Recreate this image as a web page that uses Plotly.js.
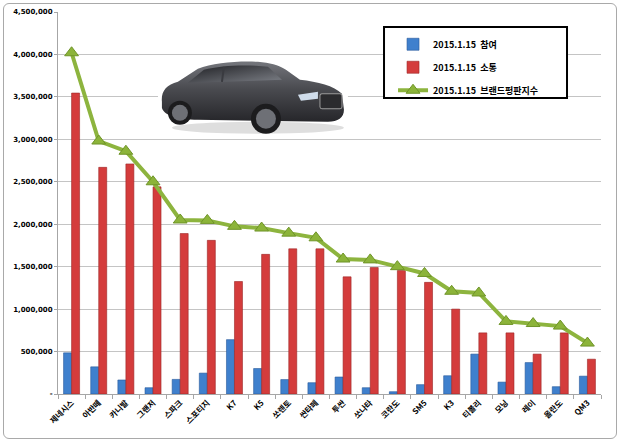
<!DOCTYPE html>
<html>
<head>
<meta charset="utf-8">
<script src="https://cdn.plot.ly/plotly-3.0.1.min.js"></script>
<style>
  html, body { margin: 0; padding: 0; background: #fff; }
  #wrap { position: relative; width: 620px; height: 442px; }
  #chart { width: 620px; height: 442px; }
  #frame {
    position: absolute; left: 3px; top: 3px; width: 612px; height: 434px;
    border: 1px solid #a9a9a9; border-radius: 6px; pointer-events: none;
  }
</style>
</head>
<body>
<div id="wrap">
  <div id="chart"></div>
  <div id="frame"></div>
</div>
<script>
const BRANDS = ["제네시스", "아반떼", "카니발", "그랜저", "스파크", "스포티지", "K7", "K5", "쏘렌토", "싼타페",
  "투싼", "쏘나타", "코란도", "SM5", "K3", "티볼리", "모닝", "레이", "올란도", "QM3"];

// 2015.1.15 참여
const JOIN = [485000, 320000, 165000, 74000, 172000, 246000, 640000, 300000, 170000, 133000,
  200000, 74000, 27000, 110000, 215000, 470000, 140000, 370000, 86000, 210000];

// 2015.1.15 소통
const TALK = [3545000, 2670000, 2710000, 2440000, 1890000, 1810000, 1325000, 1645000, 1710000, 1710000,
  1380000, 1490000, 1455000, 1315000, 1000000, 720000, 720000, 470000, 720000, 410000];

// 2015.1.15 브랜드평판지수
const INDEX = [4020000, 2980000, 2860000, 2500000, 2050000, 2045000, 1975000, 1955000, 1895000, 1840000,
  1590000, 1580000, 1500000, 1420000, 1210000, 1190000, 855000, 830000, 800000, 600000];

const Y_TICKS = [0, 500000, 1000000, 1500000, 2000000, 2500000, 3000000, 3500000, 4000000, 4500000];
const Y_LABELS = Y_TICKS.map((v) => (v ? v.toLocaleString("en-US") : "-"));

const SERIES = ["2015.1.15  참여", "2015.1.15  소통", "2015.1.15  브랜드평판지수"];

const FONT = "'Noto Sans CJK KR', 'Noto Sans', sans-serif";

// rough stand-in for the car photo
const CAR = `<svg xmlns='http://www.w3.org/2000/svg' viewBox='0 0 190 78' width='190' height='78'>
<defs>
<linearGradient id='b' x1='0' y1='0' x2='0' y2='1'><stop offset='0' stop-color='#74767c'/><stop offset='0.45' stop-color='#4a4b50'/><stop offset='1' stop-color='#26262a'/></linearGradient>
<linearGradient id='w' x1='0' y1='0' x2='1' y2='1'><stop offset='0' stop-color='#1f2024'/><stop offset='1' stop-color='#7d8087'/></linearGradient>
</defs>
<rect width='190' height='78' fill='#fff'/>
<ellipse cx='100' cy='70' rx='86' ry='6' fill='#dedede'/>
<path d='M4,44 C3,34 8,27 20,24 L40,11 C55,5 80,3 100,4 C112,5 120,7 128,12 L142,22 C160,24 176,28 184,36 L186,52 C186,60 180,64 170,64 L40,62 C20,62 6,58 4,50 Z' fill='url(#b)'/>
<path d='M30,25 L46,12 C60,8 82,7 98,8 L110,9 L124,22 Z' fill='url(#w)'/>
<path d='M66,9 L64,24' stroke='#3a3b40' stroke-width='2'/>
<path d='M140,37 L160,34 L160,41 L143,43 Z' fill='#cfdcea'/>
<rect x='162' y='36' width='22' height='15' rx='2' fill='#2b2b2e' stroke='#9a9a9a' stroke-width='1'/>
<circle cx='22' cy='55' r='12' fill='#1c1c1e'/><circle cx='22' cy='55' r='8' fill='#6e7076'/>
<circle cx='108' cy='61' r='15' fill='#1c1c1e'/><circle cx='108' cy='61' r='10' fill='#6e7076'/>
</svg>`;

const traces = [
  {
    type: "bar", name: SERIES[0], x: BRANDS, y: JOIN, legendgroup: "a",
    marker: { color: "#3f80cd", line: { color: "#28599a", width: 0.6 } },
  },
  {
    type: "bar", name: SERIES[1], x: BRANDS, y: TALK, legendgroup: "b",
    marker: { color: "#d43c3c", line: { color: "#9c2626", width: 0.6 } },
  },
  {
    type: "scatter", mode: "lines+markers", name: SERIES[2], x: BRANDS, y: INDEX, legendgroup: "c",
    line: { color: "#8db43e", width: 4 },
    marker: { symbol: "triangle-up", size: 12, color: "#8cb43a", line: { color: "#6f9428", width: 1 } },
  },
];

const layout = {
  width: 620,
  height: 442,
  margin: { l: 58, r: 19, t: 12, b: 48, pad: 0 },
  paper_bgcolor: "rgba(0,0,0,0)",
  plot_bgcolor: "#fff",
  font: { family: FONT, color: "#000" },
  barmode: "group",
  bargap: 0.41,
  bargroupgap: 0,
  showlegend: true,
  legend: {
    x: 0.617, y: 0.9535, xanchor: "left", yanchor: "top",
    bgcolor: "rgba(0,0,0,0)", borderwidth: 0,
    traceorder: "grouped", tracegroupgap: 4,
    font: { family: FONT, size: 9, weight: "bold", color: "#000" },
  },
  xaxis: {
    type: "category",
    range: [-0.5, BRANDS.length - 0.5],
    tickangle: -45,
    tickson: "boundaries",
    ticks: "outside",
    ticklen: 4,
    tickcolor: "#a6a6a6",
    showline: true,
    linecolor: "#a6a6a6",
    showgrid: false,
    automargin: false,
    tickfont: { family: FONT, size: 8, weight: "bold", color: "#000" },
  },
  yaxis: {
    range: [0, 4500000],
    tickvals: Y_TICKS,
    ticktext: Y_LABELS,
    ticks: "outside",
    ticklen: 3,
    tickcolor: "#a6a6a6",
    showline: true,
    linecolor: "#a6a6a6",
    gridcolor: "#c4c4c4",
    zeroline: false,
    automargin: false,
    tickfont: { family: "Verdana, 'DejaVu Sans', sans-serif", size: 7, weight: "bold", color: "#000" },
  },
  shapes: [
    {
      type: "rect", xref: "paper", yref: "paper", layer: "above",
      x0: 0.6004, x1: 0.9374, y0: 0.775, y1: 0.961,
      fillcolor: "#fff", line: { color: "#000", width: 2 },
    },
  ],
  images: [
    {
      source: "data:image/svg+xml;charset=utf-8," + encodeURIComponent(CAR),
      xref: "paper", yref: "paper", x: 0.184, y: 0.88, sizex: 0.35, sizey: 0.204,
      xanchor: "left", yanchor: "top", sizing: "stretch", layer: "above",
    },
  ],
};

Plotly.newPlot("chart", traces, layout, { displayModeBar: false, staticPlot: true });
</script>
</body>
</html>
